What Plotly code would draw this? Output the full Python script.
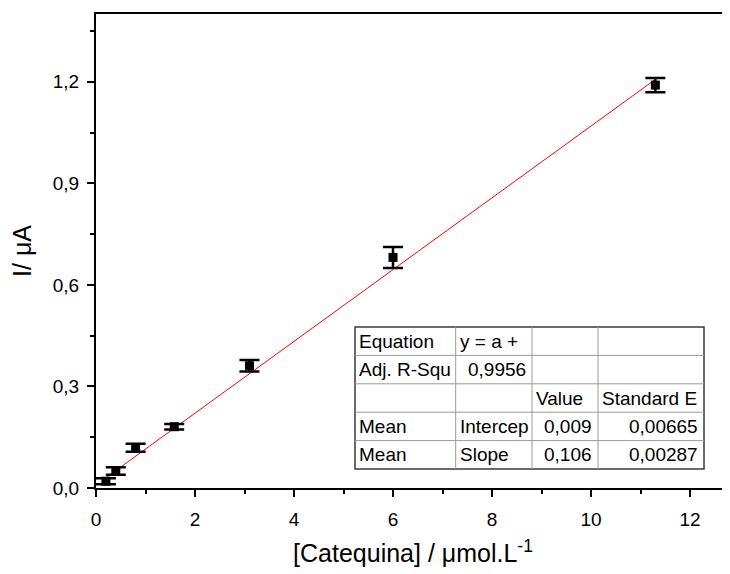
import plotly.graph_objects as go

# ---- data ----
conc = [0.2, 0.4, 0.8, 1.58, 3.1, 6.0, 11.3]
current = [0.020, 0.050, 0.119, 0.181, 0.361, 0.681, 1.190]
current_err = [0.009, 0.011, 0.012, 0.008, 0.017, 0.031, 0.021]

fit_intercept = 0.009
fit_slope = 0.106
fit_x = [0.2, 11.3]

table_rows = [
    ["Equation", "y = a +", "", ""],
    ["Adj. R-Squ", "0,9956", "", ""],
    ["", "", "Value", "Standard E"],
    ["Mean", "Intercep", "0,009", "0,00665"],
    ["Mean", "Slope", "0,106", "0,00287"],
]
table_align = [
    ["left", "left", "left", "left"],
    ["left", "right", "left", "left"],
    ["left", "left", "left", "left"],
    ["left", "left", "right", "right"],
    ["left", "left", "right", "right"],
]

# ---- layout geometry (pixels, page coords; page body has an 8px margin) ----
OFF = 8
W, H = 730 - OFF, 574 - OFF
AX_L, AX_T, AX_B, AX_R = 96, 14, 488, 730   # plot area in page pixels
L = AX_L - OFF
T = AX_T - OFF
B = OFF + H - AX_B
R = 0
PW = AX_R - AX_L
PH = AX_B - AX_T

def px(x):
    return (x - AX_L) / PW

def py(y):
    return (AX_B - y) / PH

FONT = "Liberation Sans, Arial, sans-serif"

fig = go.Figure()

fit_y = [fit_intercept + fit_slope * x for x in fit_x]
fig.add_trace(go.Scatter(
    x=fit_x, y=fit_y, mode="lines",
    line=dict(color="#ff0000", width=1),
    showlegend=False, hoverinfo="skip",
))

fig.add_trace(go.Scatter(
    x=conc, y=current, mode="markers",
    marker=dict(symbol="square", size=9, color="black"),
    error_y=dict(type="data", array=current_err, visible=True,
                 color="black", thickness=2.5, width=10),
    showlegend=False,
))

# ---- table ----
col_edges = [355, 455.7, 532, 598, 704]
row_top = 327
row_h = 28.4
n_rows = len(table_rows)
shapes = [dict(type="rect", xref="paper", yref="paper",
               x0=px(col_edges[0]), x1=px(col_edges[-1]),
               y0=py(row_top), y1=py(row_top + n_rows * row_h),
               fillcolor="white", line=dict(color="#3a3a3a", width=1.5),
               layer="above")]
for c in col_edges[1:-1]:
    shapes.append(dict(type="line", xref="paper", yref="paper", layer="above",
                       x0=px(c), x1=px(c), y0=py(row_top), y1=py(row_top + n_rows * row_h),
                       line=dict(color="#9a9a9a", width=1)))
for r in range(1, n_rows):
    yy = row_top + r * row_h
    shapes.append(dict(type="line", xref="paper", yref="paper", layer="above",
                       x0=px(col_edges[0]), x1=px(col_edges[-1]), y0=py(yy), y1=py(yy),
                       line=dict(color="#9a9a9a", width=1)))

annotations = []
for r, row in enumerate(table_rows):
    yc = row_top + (r + 0.5) * row_h
    for c, txt in enumerate(row):
        if not txt:
            continue
        al = table_align[r][c]
        if al == "left":
            xx = col_edges[c + 0] + 2
        else:
            xx = col_edges[c + 1] - 4
        annotations.append(dict(
            xref="paper", yref="paper", x=px(xx), y=py(yc),
            text=txt, showarrow=False, xanchor=al, yanchor="middle",
            font=dict(family=FONT, size=19, color="black"),
        ))

fig.update_layout(
    width=W, height=H,
    margin=dict(l=L, r=R, t=T, b=B),
    paper_bgcolor="white", plot_bgcolor="white",
    separators=", ",
    font=dict(family=FONT, color="black"),
    shapes=shapes,
    annotations=annotations,
    xaxis=dict(
        range=[0, PW / 49.5], tick0=0, dtick=2,
        showline=True, linecolor="black", linewidth=2, mirror=True,
        ticks="outside", ticklen=7, tickwidth=2, tickcolor="black",
        minor=dict(dtick=1, ticks="outside", ticklen=4, tickwidth=2, tickcolor="black"),
        showgrid=False, zeroline=False,
        tickfont=dict(family=FONT, size=19),
        ticklabelstandoff=6,
        title=dict(text="[Catequina] / μmol.L<sup>-1</sup>",
                   font=dict(family=FONT, size=25), standoff=16),
    ),
    yaxis=dict(
        range=[0, 1.4], tick0=0, dtick=0.3, tickformat=".1f",
        showline=True, linecolor="black", linewidth=2, mirror=False,
        ticks="outside", ticklen=7, tickwidth=2, tickcolor="black",
        minor=dict(dtick=0.15, ticks="outside", ticklen=4, tickwidth=2, tickcolor="black"),
        showgrid=False, zeroline=False,
        tickfont=dict(family=FONT, size=19),
        ticklabelstandoff=4,
        title=dict(text="I/ μA", font=dict(family=FONT, size=25), standoff=14),
    ),
)

fig.write_html("out.html")
